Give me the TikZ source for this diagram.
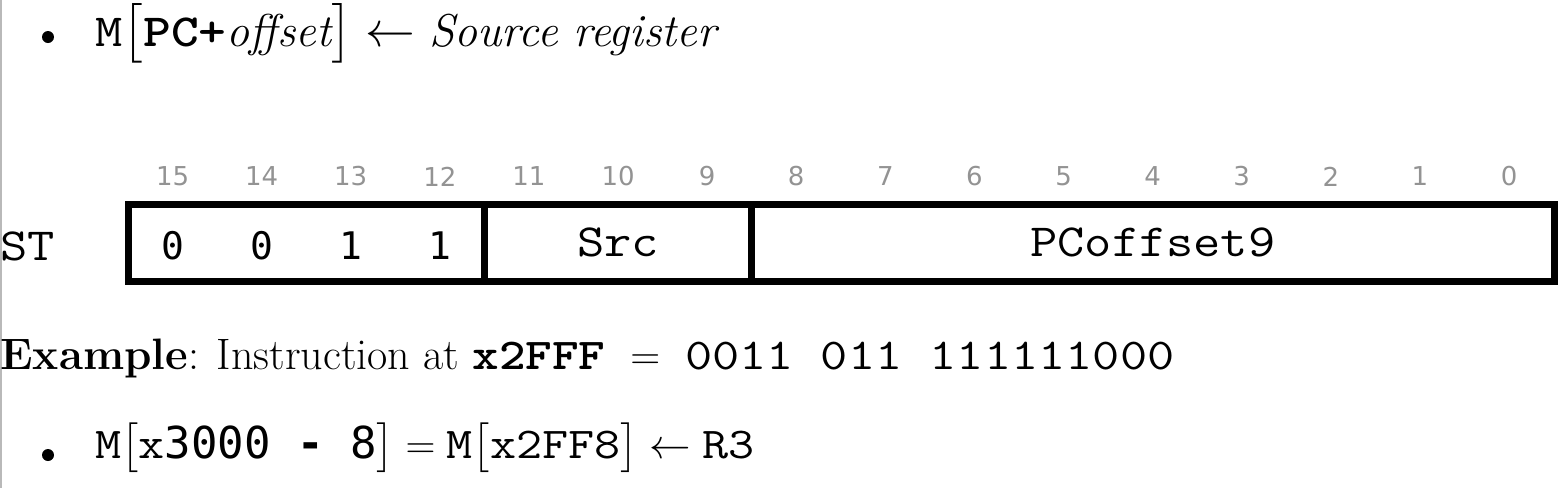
\documentclass[tikz,border=0pt]{standalone}
\usepackage{amsmath}
\usepackage{fontspec}
\usepackage{tikz}

\newfontfamily\courier{Latin Modern Mono}[FakeStretch=1.15]
\newfontfamily\courierwide{Latin Modern Mono}[FakeStretch=1.2]
\newfontfamily\courierbf{lmmonolt10-bold}[Extension=.otf, FakeStretch=1.15]
\newfontfamily\dvmono{DejaVu Sans Mono}
\newfontfamily\bitfont{DejaVu Sans}

\tikzset{
	field/.style={draw=black, line width=3.5pt, minimum height=38.5pt, inner sep=0pt, outer sep=0pt, font=\courier\fontsize{23pt}{27pt}\selectfont},
	bitnum/.style={text=gray!85, font=\bitfont\fontsize{13pt}{15pt}\selectfont, inner sep=0pt},
	bitval/.style={font=\dvmono\fontsize{19pt}{23pt}\selectfont, inner sep=0pt},
	dot/.style={shape=circle, fill=black, minimum size=6pt, inner sep=0pt},
	line/.style={anchor=base west, inner sep=0pt, font=\fontsize{22pt}{26pt}\selectfont}
}

\begin{document}
\begin{tikzpicture}[x=0.5pt, y=-0.5pt]
	
	\useasboundingbox (0,0) rectangle (1558,488);
	\draw[gray!55, line width=0.75pt] (0.75,0) -- (0.75,488);
	
	\node[dot] (d1) at (48,37) {};
	\node[line, font=\fontsize{23pt}{27pt}\selectfont] (l1) at (95,46) {$\text{\courier M}\bigl[\text{\courierbf PC+}\textit{offset}\bigr] \leftarrow \textit{Source register}$};
	
	\foreach \b in {0,...,15}
		\node[bitnum] (b\b) at ({128+(15.5-\b)*89.1},176.5) {\b};
	
	\node[anchor=west, inner sep=0pt, font=\courier\fontsize{23pt}{27pt}\selectfont] (st) at (0,246) {ST};
	\node[field, minimum width=178.2pt] (opc) at (306.2,242.5) {};
	\node[field, minimum width=133.65pt] (src) at (618.05,242.5) {Src};
	\node[field, minimum width=401.15pt] (off) at (1152.85,242.5) {PCoffset9};
	\foreach \v [count=\i] in {0,0,1,1}
		\node[bitval] (v\i) at ({128+(\i-0.5)*89.1},246) {\v};
	
	\node[line] (ex) at (0,369) {\textbf{Example}: Instruction at {\courierbf x2FFF} $\;=\;$ {\courierwide 0011 011 111111000}};
	
	\node[dot] (d2) at (48,455) {};
	\node[line] (l3) at (95,458) {$\text{\courier M}\bigl[\text{\courier x\dvmono 3000 {\bfseries -} 8}\bigr] = \text{\courier M}\bigl[\text{\courier x2FF8}\bigr] \leftarrow \text{\courier R3}$};
	
\end{tikzpicture}
\end{document}
